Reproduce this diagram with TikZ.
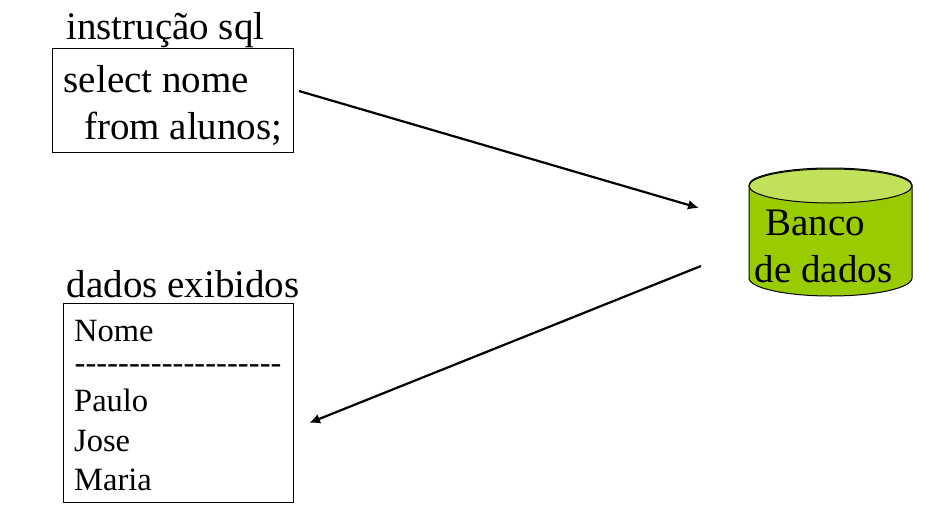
\documentclass[tikz,border=0pt]{standalone}
\usepackage{fontspec}
\setmainfont{Liberation Serif}
\newfontfamily\dashfont{Liberation Serif}
\usetikzlibrary{arrows.meta}
\definecolor{dbside}{HTML}{99CC00}
\definecolor{dbtop}{HTML}{C2E15A}
\tikzset{
  x=1pt,y=-1pt,
  box/.style={draw=black,line width=0.9pt,fill=white,inner sep=0pt,anchor=north west},
  big/.style={anchor=base west,inner sep=0pt,font=\fontsize{39}{40}\selectfont},
  small/.style={anchor=base west,inner sep=0pt,font=\fontsize{32.5}{33}\selectfont},
  link/.style={draw=black,line width=2.2pt,-{Latex[length=11pt,width=10pt]}},
  dbline/.style={draw=black,line width=1pt}
}
\begin{document}
\begin{tikzpicture}
\useasboundingbox (0,0) rectangle (925,506);
% boxes
\node[box,minimum width=241pt,minimum height=104.5pt] (sqlbox) at (51.5,47.5) {};
\node[box,minimum width=230pt,minimum height=198.5pt] (resbox) at (62.5,303) {};
% labels
\node[big] (sqltitle) at (66,39) {instrução sql};
\node[big] (sql1) at (63.5,92) {select nome};
\node[big] (sql2) at (84,139) {from alunos;};
\node[big] (restitle) at (66.5,297) {dados exibidos};
\node[small] (r1) at (74,341) {Nome};
\node[small] (r2) at (74.5,373.5) {\dashfont\addfontfeature{LetterSpace=0.2}-------------------};
\node[small] (r3) at (74,411) {Paulo};
\node[small] (r4) at (74,451) {Jose};
\node[small] (r5) at (74,490) {Maria};
% cylinder
\path[dbline,fill=dbside] (749,185) -- (749,278) arc[start angle=180,end angle=360,x radius=81.5,y radius=-18] -- (912,185) arc[start angle=0,end angle=180,x radius=81.5,y radius=-17] -- cycle;
\path[dbline,fill=dbtop] (830.5,186) ellipse[x radius=81.5,y radius=17];
\node[big] (db1) at (765,235) {Banco};
\node[big] (db2) at (754.5,282) {de dados};
% connectors
\coordinate (a1) at (299,91);
\coordinate (a2) at (699,208);
\coordinate (b1) at (701,266);
\coordinate (b2) at (309,423);
\draw[link] (a1) -- (a2);
\draw[link] (b1) -- (b2);
\end{tikzpicture}
\end{document}
